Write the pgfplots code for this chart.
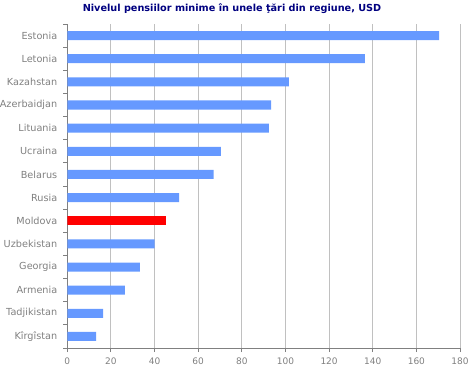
\documentclass[border=0pt]{standalone}
\usepackage{pgfplots}
\pgfplotsset{compat=1.18}
\usepackage{fontspec}
\setmainfont{DejaVu Sans}
\definecolor{barblue}{HTML}{6699FF}
\definecolor{labgray}{HTML}{808080}
\definecolor{gridgray}{HTML}{C0C0C0}
\definecolor{titleblue}{HTML}{000080}
\begin{document}
\begin{tikzpicture}
\path[use as bounding box] (-67.3pt,-22pt) rectangle (402.7pt,348pt);
\begin{axis}[
  at={(0,0)}, anchor=south west,
  scale only axis, width=392.7pt, height=324pt,
  xmin=0, xmax=180, ymin=-0.5, ymax=13.5,
  axis lines*=left,
  axis line style={labgray, line width=0.9pt},
  xtick={0,20,...,180},
  xmajorgrids, grid style={gridgray, line width=0.9pt},
  ytick={0,...,13},
  yticklabels={Kîrgîstan,Tadjikistan,Armenia,Georgia,Uzbekistan,Moldova,Rusia,Belarus,Ucraina,Lituania,Azerbaidjan,Kazahstan,Letonia,Estonia},
  minor ytick={-0.5,0.5,...,13.5},
  tick align=outside,
  major tick length=4pt, minor tick length=4pt,
  tick style={labgray, line width=0.9pt},
  major y tick style={draw=none},
  yticklabel style={font=\fontsize{9.7}{11}\selectfont, text=labgray, xshift=-2.5pt},
  xticklabel style={font=\fontsize{9}{10}\selectfont, text=labgray, yshift=-2.5pt},
  /pgf/number format/assume math mode=true,
  xbar, bar width=9pt, bar shift=0pt,
]
\addplot[fill=barblue, draw=none] coordinates {
(13.2,0) (16.4,1) (26.4,2) (33.3,3) (40.0,4) (51.2,6) (67.1,7) (70.4,8) (92.4,9) (93.4,10) (101.6,11) (136.4,12) (170.4,13)};
\addplot[fill=red, draw=none] coordinates {(45.2,5)};
\end{axis}
\node[font=\bfseries\fontsize{9.7}{11}\selectfont, text=titleblue] at (164.7pt,339pt) {Nivelul pensiilor minime în unele ţări din regiune, USD};
\end{tikzpicture}
\end{document}
